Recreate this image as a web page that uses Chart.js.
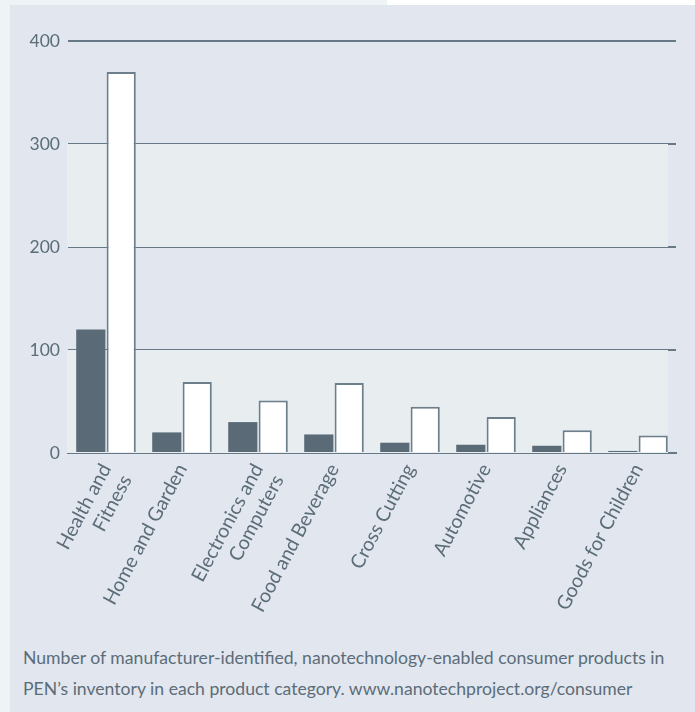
<!DOCTYPE html>
<html>
<head>
<meta charset="utf-8">
<script src="https://cdn.jsdelivr.net/npm/chart.js@4"></script>
<style>
  html, body { margin: 0; padding: 0; width: 695px; height: 712px; overflow: hidden; background: #e2e6ee; font-family: Lato, "Noto Sans", sans-serif; }
  #leftStrip { position: absolute; left: 0; top: 0; width: 10px; height: 712px; background: #eef3f6; }
  #topStrip { position: absolute; left: 0; top: 0; width: 387px; height: 5px; background: #eef3f6; }
  #topWhite { position: absolute; left: 387px; top: 0; width: 308px; height: 5px; background: #ffffff; }
  #wrap { position: absolute; left: 0; top: 0; width: 695px; height: 640px; }
  #caption { position: absolute; left: 23px; top: 642px; font-size: 17.6px; line-height: 31px; color: #5b6d79; white-space: nowrap; }
</style>
</head>
<body>
<div id="leftStrip"></div>
<div id="topStrip"></div>
<div id="topWhite"></div>
<div id="wrap"><canvas id="c"></canvas></div>
<div id="caption">Number of manufacturer-identified, nanotechnology-enabled consumer products in<br>PEN’s inventory in each product category. www.nanotechproject.org/consumer</div>
<script>
const categories = [
  ["Health and", "Fitness"],
  "Home and Garden",
  ["Electronics and", "Computers"],
  "Food and Beverage",
  "Cross Cutting",
  "Automotive",
  "Appliances",
  "Goods for Children"
];
const seriesDark = [120, 20, 30, 18, 10, 8, 7, 2];
const seriesWhite = [370, 69, 51, 68, 45, 35, 22, 17];
const yTicks = [0, 100, 200, 300, 400];

const textColor = "#5b6d79";
const lineColor = "#677987";

const bandPlugin = {
  id: "bands",
  beforeDatasetsDraw(chart) {
    const { ctx, chartArea, scales } = chart;
    const y = scales.y;
    ctx.save();
    ctx.fillStyle = "#e8edf0";
    [[0, 100], [200, 300]].forEach(([a, b]) => {
      const top = y.getPixelForValue(b);
      const bot = y.getPixelForValue(a);
      ctx.fillRect(chartArea.left - 1, top, chartArea.right - 8 - chartArea.left + 1, bot - top);
    });
    ctx.restore();
  }
};

const canvas = document.getElementById("c");
canvas.width = 695; canvas.height = 640;
new Chart(canvas, {
  type: "bar",
  data: {
    labels: categories,
    datasets: [
      { data: seriesDark, backgroundColor: "#5a6b77", borderWidth: 0 },
      { data: seriesWhite, backgroundColor: "#ffffff", borderColor: "#6d7f8b", borderWidth: 2 }
    ]
  },
  options: {
    responsive: false,
    animation: false,
    events: [],
    layout: { padding: { top: 41, left: 18, right: 19, bottom: 0 } },
    plugins: { legend: { display: false }, tooltip: { enabled: false } },
    datasets: { bar: { categoryPercentage: 0.8, barPercentage: 0.96 } },
    scales: {
      x: {
        grid: { display: false, drawTicks: false },
        border: { display: true, color: lineColor, width: 2 },
        ticks: {
          color: textColor,
          font: { family: "Lato", size: 19.5, lineHeight: 1.2 },
          minRotation: 62, maxRotation: 62,
          padding: 7,
          autoSkip: false
        },
        afterFit(s) { s.height = 187; }
      },
      y: {
        min: 0, max: 400,
        afterBuildTicks(s) { s.ticks = yTicks.map(v => ({ value: v })); },
        grid: { color: lineColor, lineWidth: 2, drawTicks: false },
        border: { display: false },
        ticks: {
          color: textColor,
          font: { family: "Lato", size: 17.5 },
          padding: 8
        },
        afterFit(s) { s.width = 50; }
      }
    }
  },
  plugins: [bandPlugin]
});
</script>
</body>
</html>
